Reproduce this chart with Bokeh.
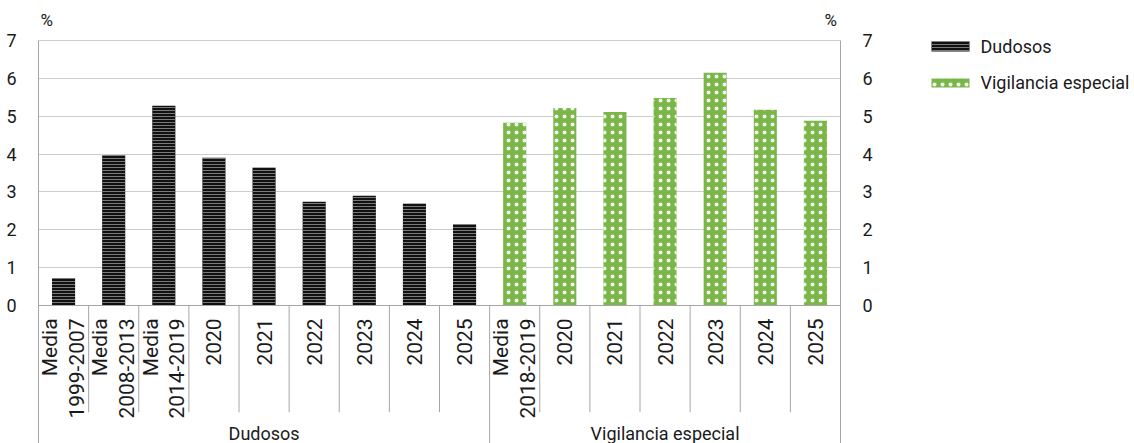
from bokeh.plotting import figure
from bokeh.layouts import row
from bokeh.models import Range1d, LinearAxis, FixedTicker, ColumnDataSource
from bokeh.core.properties import value
from bokeh.embed import file_html
from bokeh.resources import INLINE
import numpy as np

# ---- data ----
dud_labels = ["Media\n1999-2007", "Media\n2008-2013", "Media\n2014-2019",
              "2020", "2021", "2022", "2023", "2024", "2025"]
dud_values = [0.73, 3.96, 5.28, 3.90, 3.64, 2.74, 2.90, 2.69, 2.14]
vig_labels = ["Media\n2018-2019", "2020", "2021", "2022", "2023", "2024", "2025"]
vig_values = [4.83, 5.22, 5.11, 5.48, 6.15, 5.17, 4.88]
groups = ["Dudosos", "Vigilancia especial"]
y_ticks = [0, 1, 2, 3, 4, 5, 6, 7]
unit_label = "%"

FONT = "Roboto"
TXT = "#1a1a1a"
GRAY = "#a6a6a6"
DUD_FILL = "#111111"
DUD_HATCH = "#7a7a7a"
VIG_FILL = "#7ab648"

n_d = len(dud_labels)
n_v = len(vig_labels)
n = n_d + n_v
Y_LO, Y_HI = -3.645, 8.057
VERT = np.pi / 2

x_d = [i + 0.5 for i in range(n_d)]
x_v = [n_d + i + 0.5 for i in range(n_v)]

p = figure(frame_width=802, frame_height=443,
           x_range=Range1d(0, n), y_range=Range1d(Y_LO, Y_HI),
           x_axis_location=None, y_axis_location=None,
           output_backend="svg", toolbar_location=None,
           min_border_left=38, min_border_right=50,
           min_border_top=0, min_border_bottom=0)
p.outline_line_color = None
p.xgrid.visible = False
p.ygrid.ticker = FixedTicker(ticks=y_ticks)
p.ygrid.grid_line_color = "#cccccc"
p.ygrid.grid_line_width = 1

for side in ("left", "right"):
    ax = LinearAxis(ticker=FixedTicker(ticks=y_ticks), bounds=(Y_LO, max(y_ticks)))
    ax.axis_line_color = GRAY
    ax.major_tick_line_color = None
    ax.minor_tick_line_color = None
    ax.major_label_text_font = FONT
    ax.major_label_text_font_size = "18px"
    ax.major_label_text_color = TXT
    ax.major_label_standoff = 16
    p.add_layout(ax, side)

src_d = ColumnDataSource(dict(x=x_d, top=dud_values))
src_v = ColumnDataSource(dict(x=x_v, top=vig_values))
p.vbar(x="x", top="top", width=0.46, bottom=0, source=src_d,
       fill_color=DUD_FILL, line_color=None,
       hatch_pattern="-", hatch_color=DUD_HATCH, hatch_scale=3, hatch_weight=1)
p.vbar(x="x", top="top", width=0.46, bottom=0, source=src_v,
       fill_color=VIG_FILL, line_color=None,
       hatch_pattern=".", hatch_color="white", hatch_scale=8, hatch_weight=1, hatch_alpha=0.9)

# separators below the category axis
sep_x = [i for i in range(1, n) if i != n_d]
p.segment(x0=sep_x, y0=[0] * len(sep_x), x1=sep_x, y1=[-2.82] * len(sep_x),
          line_color=GRAY, line_width=1)
p.segment(x0=[n_d], y0=[0], x1=[n_d], y1=[Y_LO], line_color=GRAY, line_width=1)
p.segment(x0=[0], y0=[0], x1=[n], y1=[0], line_color=GRAY, line_width=1)

# category labels (rotated, reading bottom to top)
all_x = x_d + x_v
all_lab = dud_labels + vig_labels
p.text(x=all_x, y=[-0.34] * n, text=all_lab, angle=VERT,
       text_align="right", text_baseline="middle",
       text_font=value(FONT), text_font_size="21px", text_color=TXT,
       text_line_height=1.1)

# group labels
p.text(x=[n_d / 2, n_d + n_v / 2], y=[-3.38, -3.38], text=groups,
       text_align="center", text_baseline="middle",
       text_font=value(FONT), text_font_size="18px", text_color=TXT)

# unit labels
p.text(x=[0.04], y=[7.53], text=[unit_label], text_align="left", text_baseline="middle",
       text_font=value(FONT), text_font_size="17px", text_color=TXT)
p.text(x=[15.93], y=[7.53], text=[unit_label], text_align="right", text_baseline="middle",
       text_font=value(FONT), text_font_size="17px", text_color=TXT)

# ---- legend panel (drawn as glyphs) ----
LW = 244
lg = figure(frame_width=LW, frame_height=443,
            x_range=Range1d(0, LW), y_range=Range1d(443, 0),
            x_axis_location=None, y_axis_location=None,
            output_backend="svg", toolbar_location=None,
            min_border_left=0, min_border_right=0,
            min_border_top=0, min_border_bottom=0)
lg.outline_line_color = None
lg.grid.visible = False
lg.quad(left=[41], right=[79], top=[41], bottom=[51],
        fill_color=DUD_FILL, line_color=None,
        hatch_pattern="-", hatch_color=DUD_HATCH, hatch_scale=3, hatch_weight=1)
lg.quad(left=[41], right=[79], top=[78], bottom=[87],
        fill_color=VIG_FILL, line_color=None,
        hatch_pattern=".", hatch_color="white", hatch_scale=8, hatch_weight=1, hatch_alpha=0.9)
lg.text(x=[90, 90], y=[46, 82], text=groups, text_align="left", text_baseline="middle",
        text_font=value(FONT), text_font_size="18px", text_color=TXT)

layout = row(p, lg, spacing=0)
open("out.html", "w").write(file_html(layout, INLINE))
